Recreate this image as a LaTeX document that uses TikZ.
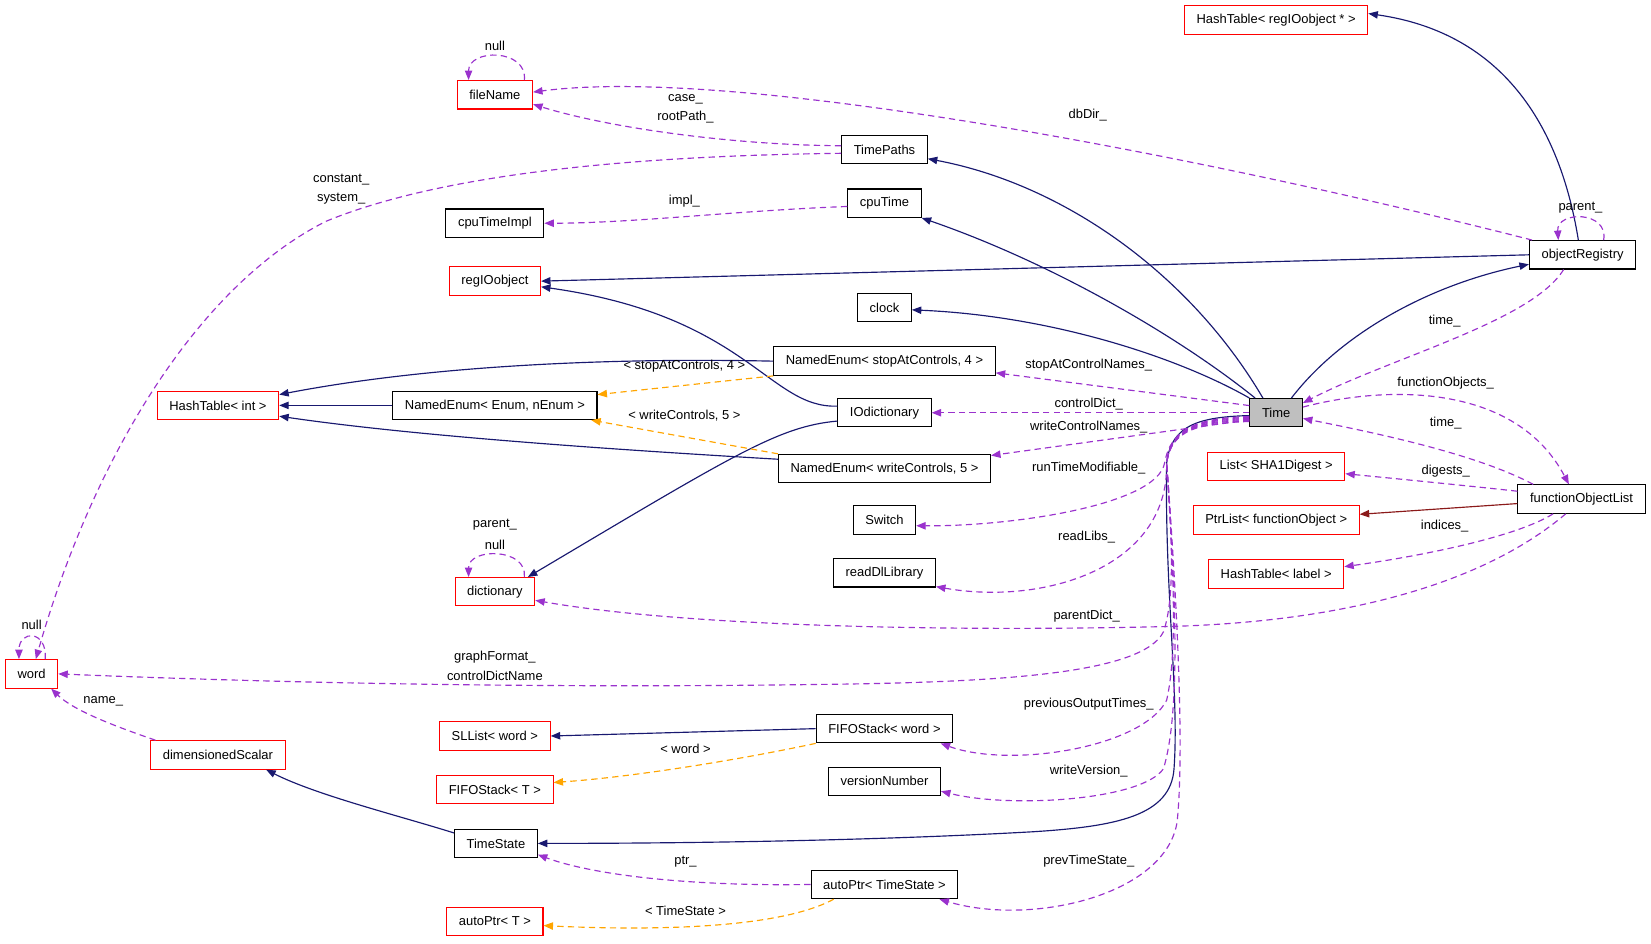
\documentclass[tikz,border=0pt]{standalone}
\usepackage{fontspec}
\setmainfont{Liberation Sans}
\usetikzlibrary{arrows.meta,calc}

\definecolor{inheritblue}{HTML}{191970}
\definecolor{usagepurple}{HTML}{9A32CD}
\definecolor{templorange}{HTML}{FFA500}
\definecolor{ptrred}{HTML}{8B1A1A}
\definecolor{timegray}{HTML}{BFBFBF}

\begin{document}
\begin{tikzpicture}[x=1pt,y=-1pt,>={Triangle[length=9pt,width=7pt]},font=\fontsize{12.3}{14}\selectfont]
    \tikzstyle{class box}=[rectangle,draw=black,line width=1pt,inner xsep=11.5pt,inner ysep=0pt,minimum height=27pt]
    \tikzstyle{undoc box}=[class box,draw=red]
    \tikzstyle{time box}=[class box,fill=timegray]
    \tikzstyle{inherit edge}=[->,draw=inheritblue,line width=1.1pt]
    \tikzstyle{usage edge}=[->,draw=usagepurple,line width=1.1pt,dash pattern=on 6pt off 4pt]
    \tikzstyle{template edge}=[usage edge,draw=templorange]
    \tikzstyle{edge label}=[inner sep=0pt]

    \useasboundingbox (0,0) rectangle (1568,896);

    % Draw the documented classes
    \foreach \name/\x/\y/\txt in {timePaths/840/142/TimePaths, cpuTimeImpl/470/212/cpuTimeImpl,
        cpuTime/840/193/cpuTime, objectRegistry/1503/242/objectRegistry, clock/840/292/clock,
        neStopAt/840/343/{NamedEnum< stopAtControls, 4 >}, neEnum/470/385/{NamedEnum< Enum, nEnum >},
        ioDict/840/392/IOdictionary, neWrite/840/445/{NamedEnum< writeControls, 5 >},
        funcObjList/1502/474/functionObjectList, switchNode/840/494/Switch, readDl/840/544/readDlLibrary,
        fifoWord/840/692/{FIFOStack< word >}, versionNumber/840/742/versionNumber,
        timeState/471/801/TimeState, autoPtrTS/840/840/{autoPtr< TimeState >}}
        \node[class box] (\name) at (\x,\y) {\txt};

    % Draw the undocumented classes
    \foreach \name/\x/\y/\txt in {hashRegIO/1212/19/{HashTable< regIOobject * >}, fileName/470/90/fileName,
        regIOobject/470/267/regIOobject, hashInt/207/385/{HashTable< int >}, listSHA/1212/443/{List< SHA1Digest >},
        ptrListFO/1212/494/{PtrList< functionObject >}, hashLabel/1212/545/{HashTable< label >},
        dictionary/470/562/dictionary, word/30/640/word, slList/470/699/{SLList< word >},
        dimScalar/207/717/dimensionedScalar, fifoT/470/750/{FIFOStack< T >}, autoPtrT/470/875/{autoPtr< T >}}
        \node[undoc box] (\name) at (\x,\y) {\txt};

    % Draw the class itself
    \node[time box] (time) at (1212,392) {Time};

    % Connect the derived classes with their bases
    \draw[inherit edge] (time.132) .. controls (1130,260) and (1010,175) .. (timePaths.-12);
    \draw[inherit edge] (time.145) .. controls (1120,320) and (1000,250) .. (cpuTime.south east);
    \draw[inherit edge] (time.north west) .. controls (1120,340) and (1000,300) .. (clock.-5);
    \draw[inherit edge] (time.44) .. controls (1275,315) and (1360,270) .. (objectRegistry.190);
    \draw[inherit edge] ($(objectRegistry.north)+(-4,0)$) .. controls (1480,110) and (1420,30) .. (hashRegIO.4);
    \draw[inherit edge] (objectRegistry.west) -- (regIOobject.east);
    \draw[inherit edge] (ioDict.172) .. controls (730,388) and (710,300) .. (regIOobject.-7);
    \draw[inherit edge] (ioDict.190) .. controls (740,405) and (700,430) .. ($(dictionary.north east)+(-7,0)$);
    \draw[inherit edge] (neStopAt.west) .. controls (600,340) and (420,345) .. (hashInt.10);
    \draw[inherit edge] (neEnum.west) -- (hashInt.east);
    \draw[inherit edge] (neWrite.175) .. controls (600,428) and (400,415) .. (hashInt.-10);
    \draw[inherit edge] (fifoWord.west) -- (slList.east);
    \draw[inherit edge] (timeState.166) .. controls (380,775) and (300,755) .. (dimScalar.-17);
    \draw[inherit edge] (time.186) .. controls (1140,396) and (1112,403) .. (1108,440)
        .. controls (1106,560) and (1120,660) .. (1115,730) .. controls (1112,775) and (1060,785) .. (980,790)
        .. controls (800,800) and (600,801) .. (timeState.east);
    \draw[inherit edge,draw=ptrred] (funcObjList.184) -- (ptrListFO.4);

    % Connect the template instances with their templates
    \draw[template edge] (neStopAt.south west) -- (neEnum.6);
    \draw[template edge] (neWrite.north west) -- ($(neEnum.south east)+(-6,0)$);
    \draw[template edge] (fifoWord.south west) .. controls (700,722) and (600,738) .. (fifoT.7);
    \draw[template edge] ($(autoPtrTS.south west)+(22,0)$) .. controls (740,882) and (620,884) .. (autoPtrT.-5);

    % Connect every class with the members it uses
    \draw[usage edge] (timePaths.175) .. controls (700,138) and (580,122) .. (fileName.-14);
    \draw[usage edge] (timePaths.185) .. controls (600,148) and (420,165) .. (310,210)
        .. controls (190,270) and (90,430) .. ($(word.north)+(4,0)$);
    \draw[usage edge] ($(objectRegistry.north west)+(3,0)$) .. controls (1150,150) and (700,62) .. (fileName.4);
    \draw[usage edge] (cpuTime.185) .. controls (700,200) and (600,212) .. (cpuTimeImpl.east);
    \draw[usage edge] (time.165) -- (neStopAt.-6);
    \draw[usage edge] (time.west) -- (ioDict.east);
    \draw[usage edge] (time.195) -- (neWrite.7);
    \draw[usage edge] (time.188) .. controls (1140,397) and (1112,405) .. (1106,440)
        .. controls (1098,480) and (960,500) .. (switchNode.-10);
    \draw[usage edge] (time.190) .. controls (1140,398) and (1112,405) .. (1108,440)
        .. controls (1110,540) and (990,575) .. (readDl.-15);
    \draw[usage edge] (time.192) .. controls (1140,399) and (1112,405) .. (1108,440)
        .. controls (1114,520) and (1115,570) .. (1105,600) .. controls (1085,640) and (950,648) .. (780,650)
        .. controls (500,654) and (250,648) .. (word.east);
    \draw[usage edge] (time.194) .. controls (1140,400) and (1112,406) .. (1108,440)
        .. controls (1115,550) and (1118,620) .. (1108,665) .. controls (1085,710) and (960,730) .. ($(fifoWord.south east)+(-12,0)$);
    \draw[usage edge] (time.196) .. controls (1140,401) and (1112,406) .. (1108,440)
        .. controls (1118,580) and (1120,680) .. (1105,730) .. controls (1085,760) and (960,768) .. (versionNumber.-10);
    \draw[usage edge] (time.198) .. controls (1140,402) and (1112,407) .. (1108,440)
        .. controls (1120,600) and (1124,720) .. (1118,780) .. controls (1108,850) and (980,880) .. ($(autoPtrTS.south east)+(-18,0)$);
    \draw[usage edge] (autoPtrTS.west) .. controls (650,842) and (560,830) .. (timeState.-15);
    \draw[usage edge] ($(dimScalar.north west)+(5,0)$) .. controls (110,690) and (70,675) .. (word.-37);
    \draw[usage edge] ($(objectRegistry.south)+(-18,0)$) .. controls (1455,305) and (1320,340) .. (time.20);
    \draw[usage edge] (time.12) .. controls (1320,365) and (1440,365) .. ($(funcObjList.north)+(-12,0)$);
    \draw[usage edge] ($(funcObjList.north west)+(15,0)$) .. controls (1400,430) and (1300,410) .. (time.-12);
    \draw[usage edge] (funcObjList.173) .. controls (1400,462) and (1330,455) .. (listSHA.-6);
    \draw[usage edge] ($(funcObjList.south)+(-27,0)$) .. controls (1440,510) and (1350,528) .. (hashLabel.6);
    \draw[usage edge] ($(funcObjList.south)+(-15,0)$) .. controls (1420,545) and (1300,590) .. (1110,595)
        .. controls (900,600) and (650,595) .. (dictionary.-12);

    % Self references
    \draw[usage edge] ($(fileName.north)+(28,0)$) .. controls +(3,-30) and +(0,-30) .. ($(fileName.north)+(-25,0)$);
    \draw[usage edge] ($(dictionary.north)+(28,0)$) .. controls +(3,-28) and +(0,-28) .. ($(dictionary.north)+(-25,0)$);
    \draw[usage edge] ($(word.north)+(13,0)$) .. controls +(2,-28) and +(0,-28) .. ($(word.north)+(-12,0)$);
    \draw[usage edge] ($(objectRegistry.north)+(20,0)$) .. controls +(5,-28) and +(-2,-28) .. ($(objectRegistry.north)+(-23,0)$);

    % Draw the edge labels
    \foreach \i/\x/\y/\txt in {1/470/44/null, 2/651/94/case\_, 3/651/111/rootPath\_, 4/1033/109/dbDir\_,
        5/324/171/constant\_, 6/324/189/system\_, 7/650/191/impl\_, 8/1501/197/parent\_,
        9/1372/305/time\_, 10/1034/347/stopAtControlNames\_, 11/650/348/{< stopAtControls, 4 >},
        12/1373/364/functionObjects\_, 13/1034/384/controlDict\_, 14/650/395/{< writeControls, 5 >},
        15/1373/402/time\_, 16/1034/406/writeControlNames\_, 17/1034/445/runTimeModifiable\_,
        18/1373/447/digests\_, 19/470/498/parent\_, 20/470/517/null, 21/1372/500/indices\_,
        22/1032/510/readLibs\_, 23/1032/585/parentDict\_, 24/30/593/null, 25/470/624/graphFormat\_,
        26/470/642/controlDictName, 27/98/666/name\_, 28/1034/669/previousOutputTimes\_,
        29/651/711/{< word >}, 30/1034/732/writeVersion\_, 31/651/818/ptr\_, 32/1034/818/prevTimeState\_,
        33/651/865/{< TimeState >}}
        \node[edge label] (lbl-\i) at (\x,\y) {\txt};

\end{tikzpicture}
\end{document}
